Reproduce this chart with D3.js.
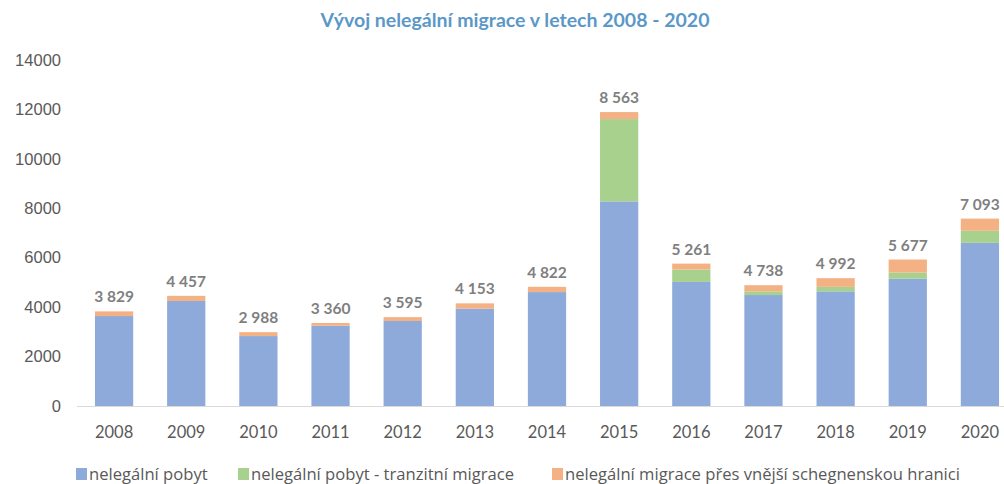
<!DOCTYPE html>
<html>
<head>
<meta charset="utf-8">
<script src="https://cdn.jsdelivr.net/npm/d3@7"></script>
<style>
  body { margin: 0; background: #fff; }
  text { font-family: Lato, "Open Sans", sans-serif; }
</style>
</head>
<body>
<div id="chart"></div>
<script>
const years = ["2008","2009","2010","2011","2012","2013","2014","2015","2016","2017","2018","2019","2020"];
const pobyt =     [3640, 4250, 2830, 3250, 3440, 3940, 4610, 8280, 5020, 4490, 4640, 5150, 6600];
const tranzit =   [0, 0, 0, 0, 0, 0, 0, 3330, 500, 150, 180, 250, 490];
const hranice =   [189, 207, 158, 110, 155, 213, 212, 283, 241, 248, 352, 527, 493];
const topLabels = ["3 829","4 457","2 988","3 360","3 595","4 153","4 822","8 563","5 261","4 738","4 992","5 677","7 093"];
const yTicks = [0, 2000, 4000, 6000, 8000, 10000, 12000, 14000];
const seriesNames = ["nelegální pobyt", "nelegální pobyt - tranzitní migrace", "nelegální migrace přes vnější schegnenskou hranici"];
const colors = ["#8eaadb", "#a9d18e", "#f4b183"];

const width = 1004, height = 484;

const svg = d3.select("#chart")
  .append("svg")
    .attr("width", width)
    .attr("height", height);

// title
svg.append("text")
  .attr("x", 515)
  .attr("y", 27)
  .attr("text-anchor", "middle")
  .style("font-size", "19.5px")
  .style("font-weight", "bold")
  .style("fill", "#5b98c8")
  .text("Vývoj nelegální migrace v letech 2008 - 2020");

const x = d3.scaleBand()
  .domain(years)
  .range([78, 1016])
  .paddingInner(0.47)
  .paddingOuter(0.235);

const y = d3.scaleLinear()
  .domain([0, 14000])
  .range([406, 60]);

// stack
const rows = years.map((yr, i) => ({year: yr, a: pobyt[i], b: tranzit[i], c: hranice[i]}));
const stacked = d3.stack().keys(["a", "b", "c"])(rows);

svg.append("g")
  .selectAll("g")
  .data(stacked)
  .join("g")
    .attr("fill", (d, i) => colors[i])
  .selectAll("rect")
  .data(d => d)
  .join("rect")
    .attr("x", d => x(d.data.year))
    .attr("width", x.bandwidth())
    .attr("y", d => y(d[1]))
    .attr("height", d => y(d[0]) - y(d[1]));

// y axis (labels only)
svg.append("g")
  .selectAll("text")
  .data(yTicks)
  .join("text")
    .attr("x", 61)
    .attr("y", d => y(d))
    .attr("dy", "0.35em")
    .attr("text-anchor", "end")
    .style("font-family", "'Liberation Sans', Arial, sans-serif")
    .style("font-size", "16.5px")
    .style("fill", "#595959")
    .text(d => d);

// x axis
const xAxis = svg.append("g")
  .attr("transform", `translate(0, ${y(0)})`)
  .call(d3.axisBottom(x).tickSize(0).tickPadding(20));
xAxis.select(".domain").attr("stroke", "#d9d9d9").attr("d", "M77,0.5H1004");
xAxis.selectAll("text")
  .style("font-family", "Lato, sans-serif")
  .style("font-size", "16.5px")
  .style("fill", "#595959");

// value labels
svg.append("g")
  .selectAll("text")
  .data(rows)
  .join("text")
    .attr("x", d => x(d.year) + x.bandwidth() / 2)
    .attr("y", d => y(d.a + d.b + d.c) - 9)
    .attr("text-anchor", "middle")
    .style("font-size", "15.5px")
    .style("font-weight", "bold")
    .style("fill", "#7f7f7f")
    .text((d, i) => topLabels[i]);

// legend
const legendX = [76, 238, 552];
const legend = svg.append("g")
  .selectAll("g")
  .data(seriesNames)
  .join("g")
    .attr("transform", (d, i) => `translate(${legendX[i]}, 474)`);
legend.append("rect")
  .attr("x", 0)
  .attr("y", -6)
  .attr("width", 11)
  .attr("height", 12)
  .attr("fill", (d, i) => colors[i]);
legend.append("text")
  .attr("x", 13)
  .attr("y", 0)
  .attr("dy", "0.35em")
  .style("font-family", "'Open Sans', sans-serif")
  .style("font-size", "16.6px")
  .style("fill", "#595959")
  .text(d => d);
</script>
</body>
</html>
